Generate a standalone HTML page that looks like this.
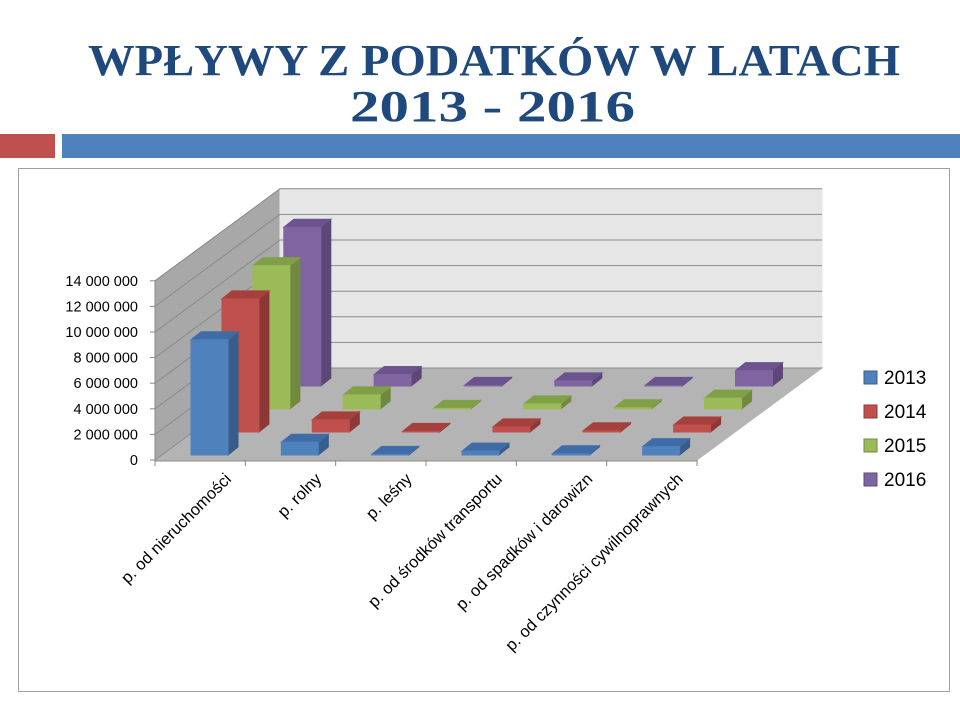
<!DOCTYPE html>
<html><head><meta charset="utf-8"><style>
body{margin:0;width:960px;height:720px;background:#fff;overflow:hidden;font-family:"Liberation Sans",Arial,sans-serif}
</style></head><body>
<svg width="960" height="720" xmlns="http://www.w3.org/2000/svg">
<text x="88" y="75" textLength="812" lengthAdjust="spacingAndGlyphs" font-family="Liberation Serif" font-weight="bold" font-size="44" fill="#1f497d">WPŁYWY Z PODATKÓW W LATACH</text>
<text x="350" y="121" textLength="285" lengthAdjust="spacingAndGlyphs" font-family="Liberation Serif" font-weight="bold" font-size="44" fill="#1f497d">2013 - 2016</text>
<rect x="0" y="134" width="55" height="24" fill="#c0504d"/>
<rect x="62" y="134" width="898" height="24" fill="#4f81bd"/>
<rect x="18.5" y="168.5" width="931" height="523" fill="#fff" stroke="#a0a0a0"/>
<g id="chart"></g>
</svg>
<script>
const categories=["p. od nieruchomości","p. rolny","p. leśny","p. od środków transportu","p. od spadków i darowizn","p. od czynności cywilnoprawnych"];
const series=["2013","2014","2015","2016"];
const v2013=[9.0,1.0,0.05,0.3,0.1,0.65];
const v2014=[10.4,0.95,0.05,0.4,0.1,0.55];
const v2015=[11.2,1.1,0.05,0.4,0.1,0.85];
const v2016=[12.4,0.9,0.05,0.4,0.05,1.2];
const yTicks=[0,2,4,6,8,10,12,14];
const yTickLabels=["0","2 000 000","4 000 000","6 000 000","8 000 000","10 000 000","12 000 000","14 000 000"];
const values=[v2013,v2014,v2015,v2016];
const cols=[["#4f81bd","#385d8a","#3f6ca6"],["#c0504d","#8c3836","#a5403d"],["#9bbb59","#71893f","#80a048"],["#8064a2","#5c4776","#6b5390"]];
const NS="http://www.w3.org/2000/svg";
const g=document.getElementById('chart');
const X0=155,Y0=460,W=542,DX=125,DY=-92,PPU=12.8;
const catW=W/categories.length;
function yv(v){return v*PPU;}
function el(t,a,p){const e=document.createElementNS(NS,t);for(const k in a)e.setAttribute(k,a[k]);(p||g).appendChild(e);return e;}
function poly(pts,fill,name){const e=el('polygon',{points:pts.map(p=>p.join(',')).join(' '),fill:fill,stroke:fill});

return e;}
poly([[X0,Y0],[X0+DX,Y0+DY],[X0+DX,Y0+DY-yv(14)],[X0,Y0-yv(14)]],"#a8a8a8","side-wall");
poly([[X0+DX,Y0+DY],[X0+DX+W,Y0+DY],[X0+DX+W,Y0+DY-yv(14)],[X0+DX,Y0+DY-yv(14)]],"#e6e6e6","back-wall");
poly([[X0,Y0],[X0+W,Y0],[X0+W+DX,Y0+DY],[X0+DX,Y0+DY]],"#b4b4b4","floor");
yTicks.forEach((t,i)=>{
 const y=yv(t);
 let l=el('polyline',{points:`${X0},${Y0-y} ${X0+DX},${Y0+DY-y} ${X0+DX+W},${Y0+DY-y}`,fill:'none',stroke:'#8a8a8a','stroke-width':1});
 
 
 let k=el('line',{x1:X0-5,y1:Y0-y,x2:X0,y2:Y0-y,stroke:'#888'});
 
 
 let tx=el('text',{x:X0-17,y:Y0-y+5,'text-anchor':'end','font-size':14.5,fill:'#000'});
 tx.textContent=yTickLabels[i];
 
 
});
let ax=el('line',{x1:X0,y1:Y0,x2:X0,y2:Y0-yv(14),stroke:'#888'});


let bx=el('line',{x1:X0,y1:Y0+1,x2:X0+W,y2:Y0+1,stroke:'#888'});


for(let c=0;c<=categories.length;c++){
 let t=el('line',{x1:X0+c*catW,y1:Y0,x2:X0+c*catW,y2:Y0+6,stroke:'#888'});
 
 
}
categories.forEach((c,i)=>{
 const cx=X0+catW*i+catW/2+32,cy=480;
 let t=el('text',{x:cx,y:cy,'text-anchor':'end','font-size':16.5,transform:`rotate(-45 ${cx} ${cy})`});
 t.textContent=c;
 
 
});
const BW=37,BDX=10,BDY=-8,RDX=DX/4,RDY=DY/4;
for(let s=3;s>=0;s--){
 for(let c=0;c<categories.length;c++){
  const h=Math.max(yv(values[s][c]),0.6);
  const x=X0+catW*c+36+s*RDX*0.99, yb=Y0-5+s*RDY, yt=yb-h;
  const [f,sd,tp]=cols[s];
  poly([[x+BW,yb],[x+BW+BDX,yb+BDY],[x+BW+BDX,yt+BDY],[x+BW,yt]],sd,`bar-${series[s]}-${c}-side`);
  poly([[x,yt],[x+BW,yt],[x+BW+BDX,yt+BDY],[x+BDX,yt+BDY]],tp,`bar-${series[s]}-${c}-top`);
  poly([[x,yb],[x+BW,yb],[x+BW,yt],[x,yt]],f,`bar-${series[s]}-${c}`);
 }
}
const ly=[371,405,439,473];
series.forEach((s,i)=>{
 let r=el('rect',{x:864,y:ly[i],width:13,height:13,fill:cols[i][0],stroke:cols[i][1]});
 
 
 let t=el('text',{x:884,y:ly[i]+13,'font-size':19});
 t.textContent=s;
 
 
});
</script>
</body></html>
